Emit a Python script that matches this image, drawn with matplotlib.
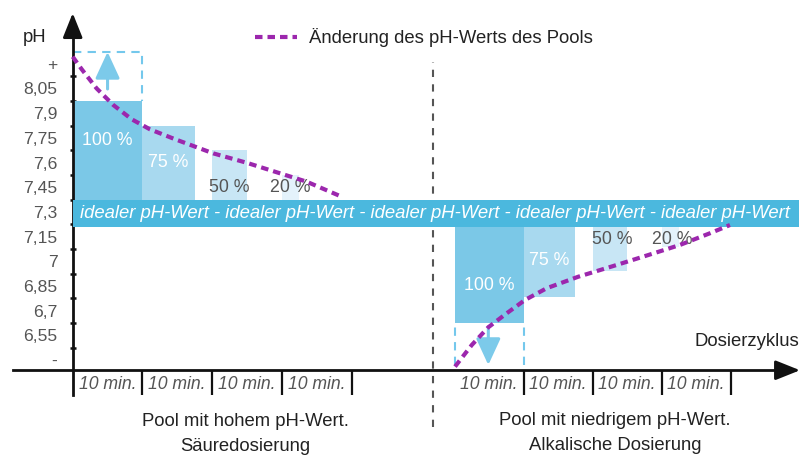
import matplotlib
matplotlib.use("Agg")
import matplotlib.pyplot as plt
from matplotlib.patches import Rectangle, FancyArrowPatch

plt.rcParams['font.family'] = ['Liberation Sans', 'DejaVu Sans']

# ---- data -------------------------------------------------------------
ph_tick_values = [8.2, 8.05, 7.9, 7.75, 7.6, 7.45, 7.3, 7.15, 7.0, 6.85, 6.7, 6.55, 6.4]
ph_tick_labels = ['+', '8,05', '7,9', '7,75', '7,6', '7,45', '7,3', '7,15', '7',
                  '6,85', '6,7', '6,55', '-']
ph_grid_marks = [8.125, 7.975, 7.825, 7.675, 7.525, 7.375, 7.225, 7.075,
                 6.925, 6.775, 6.625, 6.475]

dose_percent = [100, 75, 50, 20]
bar_width_share = [1.0, 0.75, 0.5, 0.25]
cycle_label = '10 min.'

# acid dosing (high pH pool): bar tops
acid_bar_top = [7.975, 7.825, 7.675, 7.525]
# alkaline dosing (low pH pool): bar bottoms
alkali_bar_bottom = [6.625, 6.785, 6.94, 7.085]

ideal_low, ideal_high = 7.211, 7.375
ideal_text = ' - '.join(['idealer pH-Wert'] * 5)

# pool pH course while dosing acid
acid_curve_x = [0.0, 0.129, 0.342, 0.582, 0.847, 1.109, 1.468, 2.017, 2.496,
                2.974, 3.357, 3.836]
acid_curve_ph = [8.243, 8.167, 8.051, 7.950, 7.863, 7.802, 7.742, 7.656, 7.599,
                 7.535, 7.484, 7.397]
# pool pH course while dosing alkali
alkali_curve_x = [5.485, 5.725, 5.963, 6.227, 6.49, 6.80, 7.254, 7.756, 8.186,
                  8.713, 9.143, 9.43]
alkali_curve_ph = [6.361, 6.492, 6.600, 6.685, 6.766, 6.837, 6.907, 6.972, 7.029,
                   7.100, 7.171, 7.221]

# ---- layout -----------------------------------------------------------
W, H = 808, 457
fig = plt.figure(figsize=(W / 100, H / 100), dpi=100)
ax = fig.add_axes([0, 0, 1, 1])

k = 0.15 / 24.7          # pH per pixel
cell = 69.7              # pixels per dosing cycle
x0, y0 = 72.7, 212       # pixel position of (0, 7.3)
ax.set_xlim(-x0 / cell, (W - x0) / cell)
ax.set_ylim(7.3 - (H - y0) * k, 7.3 + y0 * k)

axis_ph = 6.339
left_starts = [0, 1, 2, 3]
right_cell = 0.99
right_starts = [5.48 + i * right_cell for i in range(4)]

c_bars = ['#7bc8e7', '#a8d9ef', '#c8e6f5', '#e4f2fb']
c_band = '#4bb8de'
c_purple = '#9c27ad'
c_dash = '#74c8ec'
c_gray = '#555555'

for s in ['top', 'right']:
    ax.spines[s].set_visible(False)
ax.spines['left'].set_position(('data', 0))
ax.spines['left'].set_bounds(6.189, 8.45)
ax.spines['left'].set_linewidth(2)
ax.spines['left'].set_color('#111111')
ax.spines['bottom'].set_position(('data', axis_ph))
ax.spines['bottom'].set_bounds(-0.86, 10.3)
ax.spines['bottom'].set_linewidth(2)
ax.spines['bottom'].set_color('#111111')

ax.set_yticks(ph_tick_values, ph_tick_labels)
ax.set_yticks(ph_grid_marks, minor=True)
ax.tick_params(axis='y', which='major', length=0, pad=11, labelsize=12.6,
               labelcolor=c_gray)
ax.tick_params(axis='y', which='minor', direction='inout', length=4.5, width=1.8,
               color='#111111')

bounds = [1, 2, 3, 4] + [right_starts[i] + right_cell for i in range(4)]
ax.set_xticks(bounds, [''] * len(bounds))
ax.tick_params(axis='x', which='major', direction='out', length=18, width=1.6,
               color='#111111')

# axis arrow heads
ax.annotate('', xy=(0, 8.508), xytext=(0, 8.40),
            arrowprops=dict(arrowstyle='-|>,head_length=1.0,head_width=0.4',
                            mutation_scale=15, color='#111111', lw=2,
                            shrinkA=0, shrinkB=0))
ax.annotate('', xy=(10.435, axis_ph), xytext=(10.25, axis_ph),
            arrowprops=dict(arrowstyle='-|>,head_length=1.0,head_width=0.4',
                            mutation_scale=15, color='#111111', lw=2,
                            shrinkA=0, shrinkB=0))

# separator between both dosing modes
ax.plot([5.17, 5.17], [5.994, 8.211], color=c_gray, lw=1.5,
        dashes=(3.5, 3.5), zorder=1)

# acid dosing bars
for i, (st, w, top) in enumerate(zip(left_starts, bar_width_share, acid_bar_top)):
    ax.add_patch(Rectangle((st, ideal_high), w, top - ideal_high,
                           facecolor=c_bars[i], edgecolor='none', zorder=2))

# alkaline dosing bars
for i, (st, w, bot) in enumerate(zip(right_starts, bar_width_share,
                                     alkali_bar_bottom)):
    ax.add_patch(Rectangle((st, bot), w * right_cell, ideal_low - bot,
                           facecolor=c_bars[i], edgecolor='none', zorder=2))

# ideal band
ax.add_patch(Rectangle((0, ideal_low), 10.42, ideal_high - ideal_low,
                       facecolor=c_band, edgecolor='none', zorder=3))
ax.text(5.2, (ideal_low + ideal_high) / 2, ideal_text, color='white',
        fontsize=13.3, style='italic', ha='center', va='center', zorder=4)

# percentage labels
acid_label_y = [7.737, 7.602, 7.448, 7.448]
alkali_label_y = [6.851, 7.004, 7.13, 7.13]
label_colors = ['white', 'white', c_gray, c_gray]
for i in range(4):
    ax.text(left_starts[i] + bar_width_share[i] / 2, acid_label_y[i],
            f'{dose_percent[i]} %', color=label_colors[i], fontsize=12.8,
            ha='center', va='center', zorder=5)
    ax.text(right_starts[i] + bar_width_share[i] * right_cell / 2 + (0.03 if i >= 2 else 0),
            alkali_label_y[i], f'{dose_percent[i]} %', color=label_colors[i],
            fontsize=12.8, ha='center', va='center', zorder=5)

# dosing pulse boxes and arrows
box_top = 8.273
ax.plot([0, 1, 1], [box_top, box_top, acid_bar_top[0]], color=c_dash, lw=1.5,
        dashes=(4, 3), zorder=2)
for xx in [right_starts[0], right_starts[0] + right_cell]:
    ax.plot([xx, xx], [6.371, alkali_bar_bottom[0]], color=c_dash, lw=1.5,
            dashes=(4, 3), zorder=2)
for (xa, ya, xb, yb) in [(0.5, 8.047, 0.5, 8.272), (5.963, 6.603, 5.963, 6.371)]:
    ax.add_patch(FancyArrowPatch((xa, ya), (xb, yb),
                                 arrowstyle='-|>,head_length=0.65,head_width=0.3',
                                 mutation_scale=25, color='#7ccaea', lw=2.2,
                                 shrinkA=0, shrinkB=0, zorder=4))

# pH course of the pool
ax.plot(acid_curve_x, acid_curve_ph, color=c_purple, lw=3, dashes=(1.8, 1.2),
        zorder=6)
ax.plot(alkali_curve_x, alkali_curve_ph, color=c_purple, lw=3, dashes=(1.8, 1.2),
        zorder=6)

# legend
ax.plot([2.615, 3.214], [8.361, 8.361], color=c_purple, lw=3, dashes=(1.8, 1.2))
ax.text(3.395, 8.361, 'Änderung des pH-Werts des Pools', fontsize=13.3,
        color='#222222', va='center', ha='left')

# cycle labels
for st in left_starts:
    ax.text(st + 0.5, 6.255, cycle_label, style='italic', color=c_gray,
            fontsize=12.7, ha='center', va='center')
for st in right_starts:
    ax.text(st + right_cell / 2, 6.255, cycle_label, style='italic', color=c_gray,
            fontsize=12.7, ha='center', va='center')

ax.text(-0.551, 8.357, 'pH', fontsize=13.3, color='#222222', ha='center', va='center')
ax.text(10.42, 6.512, 'Dosierzyklus', fontsize=13.3, color='#222222',
        ha='right', va='center')

ax.text(2.483, 6.026, 'Pool mit hohem pH-Wert.', fontsize=13.3, color='#222222',
        ha='center', va='center')
ax.text(2.483, 5.875, 'Säuredosierung', fontsize=13.3, color='#222222',
        ha='center', va='center')
ax.text(7.78, 6.033, 'Pool mit niedrigem pH-Wert.', fontsize=13.3, color='#222222',
        ha='center', va='center')
ax.text(7.78, 5.879, 'Alkalische Dosierung', fontsize=13.3, color='#222222',
        ha='center', va='center')

fig.savefig('out.png', dpi=100)
